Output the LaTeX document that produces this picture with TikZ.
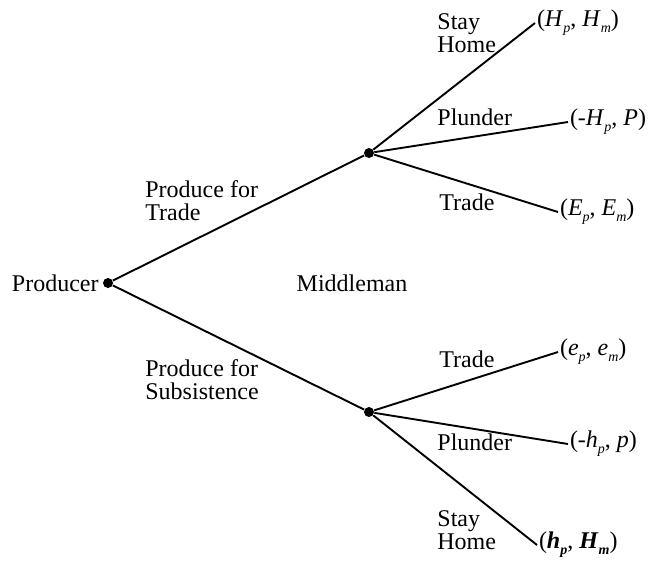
\documentclass[tikz,border=0pt]{standalone}
\usepackage{fontspec}
\setmainfont{Liberation Serif}
\usetikzlibrary{positioning}
\tikzset{circ/.style = {fill, circle, inner sep = 0, minimum size = 5pt}}
\tikzset{branch/.style = {line width = 0.95pt}}
\tikzset{lbl/.style = {inner sep = 0, align = left, anchor = west,
                       font = \fontsize{12}{11.5}\selectfont}}
\tikzset{pay/.style = {inner sep = 0.8pt, anchor = west,
                       font = \fontsize{12}{12}\selectfont}}
\newcommand{\psub}[2]{\textit{#1}\raisebox{-0.55ex}{\fontsize{7}{7}\selectfont\textit{#2}}}
\newcommand{\bsub}[2]{\textbf{\textit{#1}}\raisebox{-0.55ex}{\fontsize{7}{7}\selectfont\textbf{\textit{#2}}}}

\begin{document}
\begin{tikzpicture}[x=0.5pt, y=-0.5pt]
      \useasboundingbox (0, 0) rectangle (653, 563);

      \node [circ] (prod) at (108, 283) {};
      \node [circ] (mtop) at (369, 153) {};
      \node [circ] (mbot) at (369, 412) {};
      \node [lbl, anchor = east] (prodlbl) at (99, 283) {Producer};
      \node [lbl, anchor = center] (mid) at (352, 283) {Middleman};

      % payoffs
      \node [pay] (tA) at (535, 23) {(\psub{H}{p}, \psub{H}{m})};
      \node [pay] (tB) at (568, 122) {(-\psub{H}{p}, \textit{P})};
      \node [pay] (tC) at (558, 212) {(\psub{E}{p}, \psub{E}{m})};
      \node [pay] (bA) at (558, 352) {(\psub{e}{p}, \psub{e}{m})};
      \node [pay] (bB) at (568, 444) {(-\psub{h}{p}, \textit{p})};
      \node [pay] (bC) at (537, 545) {(\bsub{h}{p}, \bsub{H}{m})};

      \draw [branch] (prod) -- (mtop);
      \draw [branch] (prod) -- (mbot);
      \draw [branch] (mtop) -- (tA.west);
      \draw [branch] (mtop) -- (tB.west);
      \draw [branch] (mtop) -- (tC.west);
      \draw [branch] (mbot) -- (bA.west);
      \draw [branch] (mbot) -- (bB.west);
      \draw [branch] (mbot) -- (bC.west);

      \node [lbl] (ptrade) at (145, 201) {Produce for\\Trade};
      \node [lbl] (psubs) at (145, 380) {Produce for\\Subsistence};

      \node [lbl] (tstay) at (437, 33) {Stay\\Home};
      \node [lbl] (tplun) at (437, 117) {Plunder};
      \node [lbl] (ttrade) at (439, 202) {Trade};
      \node [lbl] (btrade) at (439, 359) {Trade};
      \node [lbl] (bplun) at (437, 442) {Plunder};
      \node [lbl] (bstay) at (437, 530) {Stay\\Home};
    \end{tikzpicture}
\end{document}
